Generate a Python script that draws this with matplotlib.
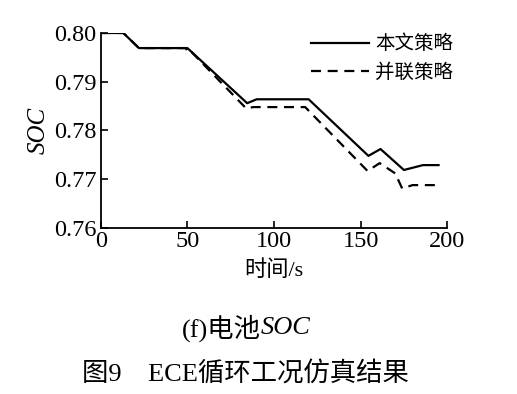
import matplotlib
matplotlib.use("Agg")
import matplotlib.pyplot as plt

t_ours = [0, 13, 22, 50, 84.5, 90, 120, 154.5, 161.5, 175, 186, 195]
soc_ours = [0.8000, 0.8000, 0.7969, 0.7969, 0.7856, 0.7864, 0.7864, 0.7748, 0.7762, 0.7719, 0.7729, 0.7729]

t_par = [0, 13, 22, 49, 50, 51, 84, 88, 118, 154, 161, 170, 174, 180, 195]
soc_par = [0.8000, 0.8000, 0.7969, 0.7969, 0.7963, 0.7966, 0.7845, 0.7848, 0.7848, 0.7717, 0.7733, 0.7712, 0.7681, 0.7688, 0.7688]

xticks = [0, 50, 100, 150, 200]
yticks = [0.76, 0.77, 0.78, 0.79, 0.80]
labels = ["本文策略", "并联策略"]

serif = ["Liberation Serif", "DejaVu Serif"]
cjk = ["Liberation Serif", "Noto Sans CJK SC"]

fig = plt.figure(figsize=(5.17, 3.94), dpi=100)
ax = fig.add_axes([0.195, 0.4213, 0.670, 0.4950])
ax.plot(t_ours, soc_ours, color="black", lw=1.6, label=labels[0])
ax.plot(t_par, soc_par, color="black", lw=1.6, ls=(0, (4.5, 3)), label=labels[1])
ax.set_xlim(0, 200)
ax.set_ylim(0.76, 0.80)
ax.set_xticks(xticks)
ax.set_yticks(yticks)
ax.set_xticklabels([str(v) for v in xticks], fontfamily=serif, fontsize=17.5)
ax.set_yticklabels([f"{v:.2f}" for v in yticks], fontfamily=serif, fontsize=17.5)
ax.tick_params(direction="in", length=5, width=1.2, pad=3)
ax.tick_params(axis="x", pad=2)
for s in ["top", "right"]:
    ax.spines[s].set_visible(False)
for s in ["left", "bottom"]:
    ax.spines[s].set_linewidth(1.3)
ax.set_xlabel("时间/s", fontfamily=cjk, fontsize=16, labelpad=6)
ax.set_ylabel("SOC", fontfamily=serif, fontstyle="italic", fontsize=18, labelpad=3)
leg = ax.legend(loc="upper right", frameon=False, prop={"family": cjk, "size": 14},
                handlelength=3.0, handletextpad=0.3, labelspacing=0.5, borderaxespad=0.0,
                bbox_to_anchor=(1.04, 1.03))

fig.text(0.505, 0.168, "(f)电池", fontfamily=cjk, fontsize=19, ha="right", va="center")
fig.text(0.505, 0.168, "SOC", fontfamily=serif, fontstyle="italic", fontsize=19, ha="left", va="center")
fig.text(0.475, 0.052, "图9　ECE循环工况仿真结果", fontfamily=cjk, fontsize=19, ha="center", va="center")

fig.savefig("out.png", dpi=100, facecolor="white")
